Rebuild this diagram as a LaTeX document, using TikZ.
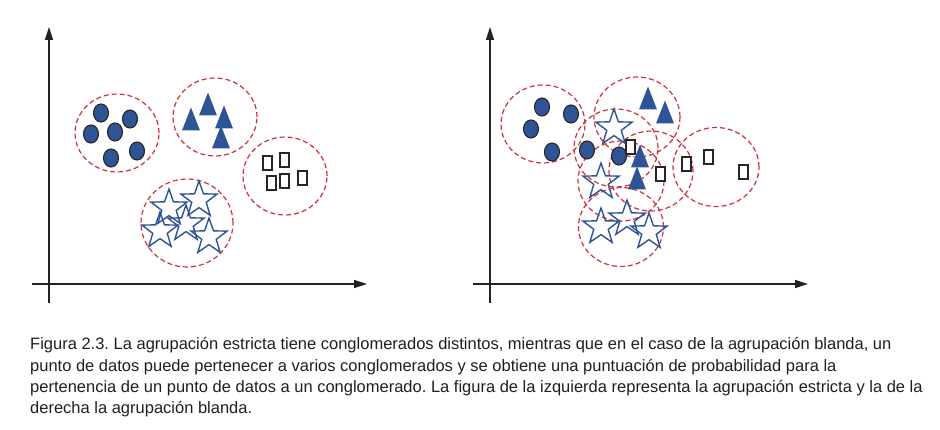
\documentclass[tikz,border=0pt]{standalone}
\usepackage{fontspec}
\setmainfont{Liberation Sans}
\usetikzlibrary{shapes.geometric,arrows.meta}
\definecolor{ptblue}{HTML}{2F5496}
\definecolor{cred}{HTML}{D0303A}
\definecolor{axisc}{HTML}{222222}
\begin{document}
\begin{tikzpicture}[x=1pt,y=-1pt,
 cl/.style={ellipse, draw=cred, dash pattern=on 5pt off 3pt, line width=1.2pt, minimum width=84pt, minimum height=78pt, inner sep=0pt},
 ax/.style={draw=axisc, line width=1.3pt, -{Triangle[length=13pt,width=8pt]}},
 dotp/.style={ellipse, fill=ptblue, draw=black!85, line width=1.1pt, minimum width=15pt, minimum height=18pt, inner sep=0pt},
 sqp/.style={rectangle, draw=black!85, fill=white, line width=2pt, minimum width=9pt, minimum height=14pt, inner sep=0pt},
 stp/.style={star, star points=5, star point ratio=2.5, draw=ptblue, line width=1.4pt, minimum size=38pt, inner sep=0pt},
 tri/.pic={\fill[ptblue] (-9,11.5) -- (9,11.5) -- (0,-11.5) -- cycle;},
 captxt/.style={anchor=base west, inner sep=0pt, font=\fontsize{16.5}{18}\selectfont\frenchspacing, text=black!88}
]
\useasboundingbox (0,0) rectangle (940,430);
% ---------- left panel ----------
\coordinate (lyb) at (49,303); \coordinate (lyt) at (49,27);
\coordinate (lxl) at (32,284); \coordinate (lxr) at (367,284);
\draw[ax] (lyb) -- (lyt);
\draw[ax] (lxl) -- (lxr);
\node[cl] (lc1) at (117,133) {};
\node[cl] (lc2) at (215,117) {};
\node[cl] (lc3) at (285,176) {};
\node[cl, minimum width=92pt, minimum height=88pt] (lc4) at (187,223) {};
\node[dotp] (ld1) at (101,113) {};
\node[dotp] (ld2) at (130,119) {};
\node[dotp] (ld3) at (91,134) {};
\node[dotp] (ld4) at (115,132) {};
\node[dotp] (ld5) at (137,151) {};
\node[dotp] (ld6) at (111,158) {};
\pic at (208,104) {tri};
\pic at (191,119) {tri};
\pic at (224,117) {tri};
\pic at (221,137) {tri};
\node[sqp] (ls1) at (267,163) {};
\node[sqp] (ls2) at (284,160) {};
\node[sqp] (ls3) at (271,183) {};
\node[sqp] (ls4) at (284,181) {};
\node[sqp] (ls5) at (302,178) {};
\node[stp] (lt1) at (169,208) {};
\node[stp] (lt2) at (199,200) {};
\node[stp] (lt3) at (186,224) {};
\node[stp] (lt4) at (160,231) {};
\node[stp] (lt5) at (209,237) {};
% ---------- right panel ----------
\coordinate (ryb) at (490,303); \coordinate (ryt) at (490,27);
\coordinate (rxl) at (473,284); \coordinate (rxr) at (808,284);
\draw[ax] (ryb) -- (ryt);
\draw[ax] (rxl) -- (rxr);
\node[cl] (rc1) at (543,124) {};
\node[cl, minimum width=86pt, minimum height=80pt] (rc2) at (637,117) {};
\node[cl] (rc3) at (616,148) {};
\node[cl, minimum width=86pt, minimum height=80pt] (rc4) at (621,181) {};
\node[cl, minimum width=84pt, minimum height=80pt] (rc5) at (651,171) {};
\node[cl, minimum width=86pt, minimum height=79pt] (rc6) at (716,167) {};
\node[cl, minimum width=85pt, minimum height=79pt] (rc7) at (621,227) {};
\node[dotp] (rd1) at (542,107) {};
\node[dotp] (rd2) at (571,114) {};
\node[dotp] (rd3) at (531,129) {};
\node[dotp] (rd4) at (552,152) {};
\node[dotp] (rd5) at (587,150) {};
\node[dotp] (rd6) at (619,156) {};
\pic at (648,98) {tri};
\pic at (665,112) {tri};
\pic at (640,156) {tri};
\pic at (637,178) {tri};
\node[sqp] (rs1) at (630,147) {};
\node[sqp] (rs2) at (660,174) {};
\node[sqp] (rs3) at (686,164) {};
\node[sqp] (rs4) at (708,157) {};
\node[sqp] (rs5) at (743,172) {};
\node[stp] (rt1) at (614,128) {};
\node[stp] (rt2) at (601,182) {};
\node[stp] (rt3) at (601,227) {};
\node[stp] (rt4) at (627,219) {};
\node[stp] (rt5) at (649,232) {};
% ---------- caption ----------
\node[captxt] (cap1) at (30,350) {Figura 2.3. La agrupación estricta tiene conglomerados distintos, mientras que en el caso de la agrupación blanda, un};
\node[captxt] (cap2) at (30,371.3) {punto de datos puede pertenecer a varios conglomerados y se obtiene una puntuación de probabilidad para la};
\node[captxt] (cap3) at (30,392.6) {pertenencia de un punto de datos a un conglomerado. La figura de la izquierda representa la agrupación estricta y la de la};
\node[captxt] (cap4) at (30,413.9) {derecha la agrupación blanda.};
\end{tikzpicture}
\end{document}
